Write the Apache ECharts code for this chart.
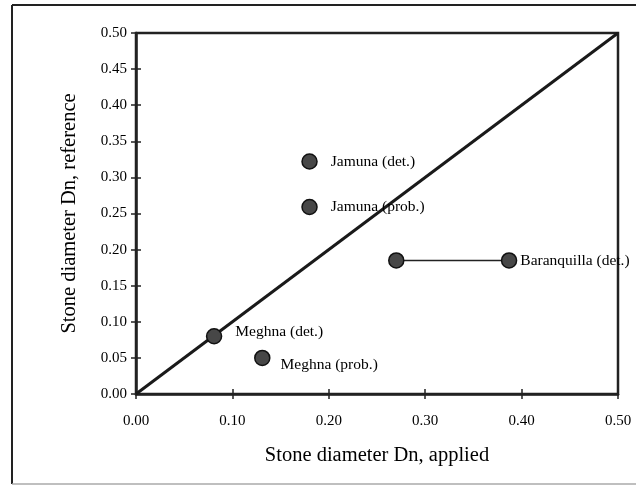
<!DOCTYPE html>
<html>
<head>
<meta charset="utf-8">
<script src="https://cdn.jsdelivr.net/npm/echarts@6/dist/echarts.min.js"></script>
<style>
html, body { margin: 0; padding: 0; background: #fff; }
#chart { width: 636px; height: 486px; }
</style>
</head>
<body>
<div id="chart"></div>
<script>
// 数据
var pointNames = ['Jamuna (det.)', 'Jamuna (prob.)', 'Meghna (det.)', 'Meghna (prob.)'];
var appliedDn = [0.18, 0.18, 0.081, 0.131];
var referenceDn = [0.322, 0.259, 0.080, 0.050];
var baranquillaX = [0.27, 0.387];
var baranquillaY = [0.185, 0.185];
var diagonal = [[0, 0], [0.5, 0.5]];

var font = 'Liberation Serif, Times New Roman, serif';
var labelOffsets = [[0, 0], [0, 0], [0, -4], [-3, 7]];

var chart = echarts.init(document.getElementById('chart'));

var pointData = [];
for (var i = 0; i < pointNames.length; i++) {
	pointData.push({
		name: pointNames[i],
		value: [appliedDn[i], referenceDn[i]],
		label: { offset: labelOffsets[i] }
	});
}

var baranData = [];
for (var j = 0; j < baranquillaX.length; j++) {
	baranData.push({
		value: [baranquillaX[j], baranquillaY[j]],
		label: { show: j == baranquillaX.length - 1, formatter: 'Baranquilla (det.)', distance: 3 }
	});
}

var option = {
	backgroundColor: '#fff',
	animation: false,
	graphic: [
		{ type: 'line', shape: { x1: 12, y1: 5, x2: 12, y2: 484 }, style: { stroke: '#222', lineWidth: 2 } },
		{ type: 'line', shape: { x1: 12, y1: 5, x2: 636, y2: 5 }, style: { stroke: '#222', lineWidth: 2 } },
		{ type: 'line', shape: { x1: 12, y1: 484, x2: 636, y2: 484 }, style: { stroke: '#aaa', lineWidth: 1.5 } }
	],
	grid: {
		left: 136, right: 18, top: 33, bottom: 92,
		show: true, borderColor: '#222', borderWidth: 2.5, backgroundColor: 'transparent'
	},
	xAxis: [{
		type: 'value', min: 0, max: 0.5, interval: 0.1,
		name: 'Stone diameter Dn, applied',
		nameLocation: 'middle', nameGap: 51,
		nameTextStyle: { fontFamily: font, fontSize: 20.5, color: '#000' },
		axisLine: { show: true, lineStyle: { color: '#222', width: 2.5 } },
		axisTick: { show: true, length: 5, lineStyle: { color: '#222', width: 1.5 } },
		axisLabel: {
			fontFamily: font, fontSize: 15, color: '#000', margin: 20,
			formatter: function (v) { return v.toFixed(2); }
		},
		splitLine: { show: false }
	}, {
		type: 'value', min: 0, max: 0.5, interval: 0.1, position: 'bottom',
		axisLine: { show: false },
		axisTick: { show: true, inside: true, length: 5, lineStyle: { color: '#222', width: 1.5 } },
		axisLabel: { show: false },
		splitLine: { show: false }
	}],
	yAxis: [{
		type: 'value', min: 0, max: 0.5, interval: 0.05,
		name: 'Stone diameter Dn, reference',
		nameLocation: 'middle', nameGap: 56,
		nameTextStyle: { fontFamily: font, fontSize: 20.5, color: '#000' },
		axisLine: { show: true, lineStyle: { color: '#222', width: 2.5 } },
		axisTick: { show: true, length: 5, lineStyle: { color: '#222', width: 1.5 } },
		axisLabel: {
			fontFamily: font, fontSize: 15, color: '#000', margin: 9,
			formatter: function (v) { return v.toFixed(2); }
		},
		splitLine: { show: false }
	}, {
		type: 'value', min: 0, max: 0.5, interval: 0.05, position: 'left',
		axisLine: { show: false },
		axisTick: { show: true, inside: true, length: 5, lineStyle: { color: '#222', width: 1.5 } },
		axisLabel: { show: false },
		splitLine: { show: false }
	}],
	series: [{
		type: 'line',
		data: diagonal,
		symbol: 'none',
		lineStyle: { color: '#1a1a1a', width: 3 },
		z: 2
	}, {
		type: 'line',
		data: baranData,
		symbol: 'circle',
		symbolSize: 15,
		showAllSymbol: true,
		lineStyle: { color: '#222', width: 1.5 },
		itemStyle: { color: '#474747', borderColor: '#111', borderWidth: 1.5 },
		label: { position: 'right', fontFamily: font, fontSize: 15.5, color: '#000' },
		z: 3
	}, {
		type: 'scatter',
		data: pointData,
		symbol: 'circle',
		symbolSize: 15,
		itemStyle: { color: '#474747', borderColor: '#111', borderWidth: 1.5, opacity: 1 },
		label: {
			show: true, position: 'right', distance: 13,
			formatter: '{b}',
			fontFamily: font, fontSize: 15.5, color: '#000'
		},
		z: 4
	}]
};
chart.setOption(option);
</script>
</body>
</html>
